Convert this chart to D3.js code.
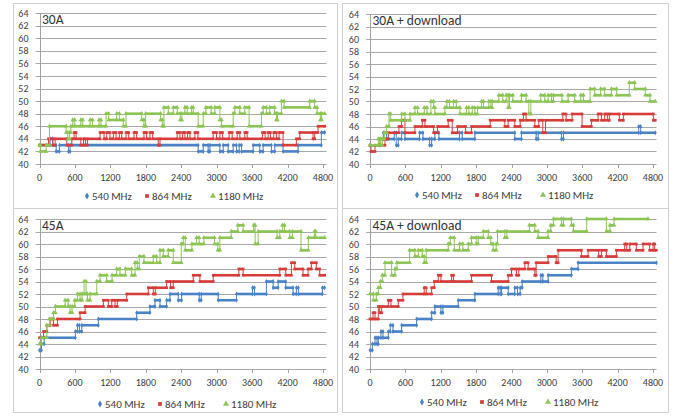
<!DOCTYPE html>
<html><head><meta charset="utf-8">
<script src="https://cdn.jsdelivr.net/npm/d3@7/dist/d3.min.js"></script>
<style>body{margin:0;background:#fff}svg{display:block}</style>
</head><body>
<svg id="c" width="675" height="416"></svg>
<script>
// ---- data ----
const xTicks = [0, 600, 1200, 1800, 2400, 3000, 3600, 4200, 4800];
const yTicks = [40, 42, 44, 46, 48, 50, 52, 54, 56, 58, 60, 62, 64];
const seriesNames = ["540 MHz", "864 MHz", "1180 MHz"];
const panelTitles = ["30A", "30A + download", "45A", "45A + download"];

// [time, temperature] change points (last pair = end of record)
const a30_540 = [[0,43],[180,44],[225,43],[282,42],[338,43],[490,42],[518,43],[2687,42],[2772,43],[2856,42],[2885,43],[3054,42],[3110,43],[3194,42],[3279,43],[3335,42],[3380,43],[3420,42],[3617,43],[3730,42],[3786,43],[3927,42],[3983,43],[4124,42],[4378,43],[4772,45],[4828,45]];
const a30_864 = [[0,43],[152,44],[225,43],[265,44],[462,43],[547,44],[586,45],[620,44],[699,43],[744,44],[778,43],[811,44],[1025,45],[1093,44],[1138,45],[1194,44],[1251,45],[1296,44],[1352,45],[1392,44],[1465,45],[1510,44],[1600,45],[1645,44],[1769,45],[1814,44],[1870,45],[1916,44],[2011,43],[2040,44],[2332,45],[2377,44],[2423,45],[2462,44],[2507,45],[2547,44],[2631,45],[2682,44],[2941,45],[2997,44],[3054,45],[3099,44],[3211,45],[3262,44],[3347,45],[3392,44],[3476,45],[3516,44],[3775,45],[3820,44],[3871,45],[3910,44],[3966,45],[4011,44],[4056,45],[4124,43],[4349,44],[4406,45],[4631,44],[4659,45],[4716,46],[4828,46]];
const a30_1180 = [[0,43],[17,42],[113,43],[169,46],[451,45],[479,44],[507,45],[530,46],[563,47],[597,46],[699,47],[732,46],[856,47],[896,46],[1008,47],[1042,46],[1127,48],[1172,47],[1307,48],[1352,47],[1420,46],[1465,48],[1730,47],[1769,46],[1797,48],[2051,47],[2079,46],[2107,49],[2180,48],[2265,49],[2332,48],[2383,47],[2411,48],[2462,49],[2501,48],[2575,49],[2603,48],[2687,46],[2772,48],[2817,49],[2907,48],[2969,49],[3054,47],[3082,46],[3279,48],[3307,49],[3392,48],[3476,49],[3549,46],[3758,48],[3786,49],[3843,48],[3899,49],[3983,48],[4011,47],[4028,48],[4096,50],[4141,49],[4575,50],[4659,49],[4699,48],[4755,47],[4777,48],[4828,48]];

const d30_540 = [[0,43],[169,44],[226,45],[282,44],[412,45],[446,43],[480,44],[536,45],[593,44],[841,45],[898,44],[1011,43],[1045,44],[1101,45],[1169,44],[1519,45],[1564,44],[1779,45],[2456,44],[2569,45],[2818,44],[2852,45],[3247,44],[3281,45],[4557,46],[4591,45],[4839,45]];
const d30_864 = [[0,43],[17,42],[85,43],[254,44],[311,45],[491,46],[536,47],[593,45],[762,46],[887,47],[932,46],[1079,45],[1146,46],[1327,47],[1395,45],[1485,46],[1621,45],[1722,46],[2039,47],[2287,46],[2343,47],[2456,46],[2547,47],[2603,48],[2648,47],[2795,46],[2863,47],[2931,45],[2976,47],[3270,48],[3326,47],[3428,48],[3597,46],[3755,47],[3868,48],[3925,47],[3981,48],[4026,47],[4060,48],[4230,47],[4297,48],[4806,47],[4839,47]];
const d30_1180 = [[0,43],[141,44],[181,43],[209,44],[243,45],[282,46],[322,48],[350,47],[536,48],[593,47],[678,48],[762,49],[808,48],[920,49],[966,48],[1033,50],[1079,49],[1101,48],[1271,49],[1304,50],[1350,49],[1417,50],[1463,49],[1525,48],[1638,49],[1677,48],[1734,49],[1779,48],[1824,49],[1892,50],[1926,49],[2016,50],[2050,49],[2072,50],[2185,51],[2253,50],[2310,51],[2343,49],[2366,51],[2423,50],[2569,51],[2648,50],[2694,48],[2728,50],[2897,51],[2965,50],[3021,51],[3078,50],[3111,51],[3258,50],[3360,51],[3473,50],[3575,51],[3620,50],[3733,52],[3812,51],[3913,52],[3981,51],[4094,52],[4184,51],[4399,53],[4489,52],[4670,51],[4749,50],[4839,50]];

const a45_540 = [[0,43],[34,44],[79,45],[608,46],[642,47],[676,46],[716,47],[997,48],[1645,49],[1870,50],[1955,51],[2040,50],[2152,51],[2209,52],[2349,51],[2406,52],[2704,51],[2738,52],[3025,51],[3335,52],[3606,53],[3640,52],[3842,54],[3955,53],[4040,54],[4169,53],[4293,52],[4349,53],[4383,52],[4789,53],[4828,53]];
const a45_864 = [[0,45],[68,46],[124,47],[180,48],[237,47],[304,48],[687,49],[772,50],[1082,51],[1166,50],[1223,51],[1279,50],[1318,51],[1476,52],[1842,53],[1927,52],[1961,53],[2152,54],[2220,53],[2265,54],[2603,55],[2716,54],[2941,55],[3375,56],[3448,55],[4068,56],[4169,55],[4265,57],[4321,56],[4462,55],[4547,56],[4603,57],[4687,56],[4744,55],[4828,55]];
const a45_1180 = [[0,44],[34,45],[124,47],[169,48],[237,49],[270,50],[434,51],[485,50],[518,49],[552,50],[597,51],[642,52],[687,51],[721,52],[755,54],[789,52],[811,51],[856,52],[969,54],[1025,55],[1138,54],[1228,55],[1307,56],[1363,55],[1454,56],[1561,55],[1617,57],[1656,56],[1690,58],[1769,57],[1927,58],[1983,57],[2040,59],[2096,58],[2180,59],[2265,57],[2400,60],[2434,61],[2468,59],[2580,60],[2659,61],[2704,60],[2783,61],[2963,60],[3020,59],[3054,61],[3245,62],[3358,63],[3448,62],[3628,63],[3651,60],[3702,62],[4023,61],[4068,62],[4113,63],[4147,62],[4237,61],[4282,62],[4428,59],[4552,61],[4654,62],[4676,61],[4828,61]];

const d45_540 = [[0,43],[40,44],[85,45],[119,44],[141,45],[186,46],[220,45],[311,46],[344,47],[390,46],[536,47],[791,48],[1045,49],[1101,50],[1203,49],[1237,50],[1496,51],[1779,52],[2174,53],[2208,52],[2231,53],[2344,52],[2456,53],[2502,52],[2547,53],[2581,54],[2897,55],[2931,54],[3021,55],[3416,56],[3529,57],[4857,57]];
const d45_864 = [[0,48],[51,49],[85,48],[141,50],[164,49],[198,50],[311,51],[356,50],[480,51],[559,52],[920,53],[954,52],[1045,53],[1090,54],[1158,55],[1203,54],[1384,55],[1417,54],[1722,55],[2061,54],[2344,55],[2400,56],[2485,55],[2524,56],[2626,57],[2682,56],[2795,55],[2818,57],[3021,58],[3157,57],[3191,59],[3586,58],[3699,59],[3879,58],[3925,59],[4009,58],[4179,59],[4320,60],[4354,59],[4405,60],[4518,59],[4631,60],[4743,59],[4800,60],[4828,59],[4857,59]];
const d45_1180 = [[0,52],[56,51],[107,52],[141,53],[175,54],[209,55],[254,57],[367,55],[424,56],[457,57],[672,59],[762,58],[819,59],[887,58],[920,57],[954,59],[1327,60],[1361,61],[1429,59],[1519,60],[1576,59],[1666,60],[1722,61],[1801,60],[1835,61],[1920,62],[2005,61],[2050,60],[2089,59],[2140,60],[2163,62],[2287,61],[2321,62],[2705,63],[2795,62],[2852,61],[3021,62],[3066,63],[3111,64],[3247,63],[3281,64],[3416,63],[3450,62],[3676,64],[4009,62],[4071,63],[4139,64],[4715,64]];

// ---- layout / style ----
const colors = ["#4a82c6", "#d63c3a", "#8cc456"];
const symbols = [d3.symbolDiamond, d3.symbolSquare, d3.symbolTriangle];
const FONT = "Carlito, Lato, 'Liberation Sans', sans-serif";
const panels = [
  {title: panelTitles[0], data: [a30_540, a30_864, a30_1180], box: [13.5, 3.5, 337.5, 208.5], x0: 39.5, x48: 323, yT: 13, yB: 164, legX: 87, legY: 196},
  {title: panelTitles[1], data: [d30_540, d30_864, d30_1180], box: [342.5, 3.5, 668.5, 208.5], x0: 370, x48: 653, yT: 14, yB: 164, legX: 417, legY: 195},
  {title: panelTitles[2], data: [a45_540, a45_864, a45_1180], box: [13.5, 208.5, 337.5, 412.5], x0: 39.5, x48: 323, yT: 219, yB: 369, legX: 100, legY: 404},
  {title: panelTitles[3], data: [d45_540, d45_864, d45_1180], box: [342.5, 208.5, 668.5, 412.5], x0: 370, x48: 653, yT: 219, yB: 369, legX: 422, legY: 402}
];

const svg = d3.select("#c");

panels.forEach(p => {
  const g = svg.append("g");
  g.append("rect").attr("x", p.box[0]).attr("y", p.box[1])
    .attr("width", p.box[2] - p.box[0]).attr("height", p.box[3] - p.box[1])
    .attr("fill", "#fff").attr("stroke", "#d0d0d0").attr("stroke-width", 1);

  const x = d3.scaleLinear().domain([0, 4800]).range([p.x0, p.x48]);
  const y = d3.scaleLinear().domain([40, 64]).range([p.yB, p.yT]);
  const xEnd = x(4860);

  yTicks.forEach(v => {
    g.append("line").attr("x1", p.x0 - 4).attr("x2", xEnd)
      .attr("y1", Math.round(y(v)) + 0.5).attr("y2", Math.round(y(v)) + 0.5)
      .attr("stroke", "#a8a8a8").attr("stroke-width", 1);
    g.append("text").attr("x", p.x0 - 11).attr("y", y(v)).attr("dy", "0.36em")
      .attr("text-anchor", "end").attr("font-family", FONT).attr("font-size", 10)
      .attr("fill", "#404040").text(v);
  });
  g.append("line").attr("x1", Math.round(p.x0) + 0.5).attr("x2", Math.round(p.x0) + 0.5)
    .attr("y1", y(64)).attr("y2", y(40)).attr("stroke", "#a0a0a0");
  xTicks.forEach(t => {
    g.append("line").attr("x1", Math.round(x(t)) + 0.5).attr("x2", Math.round(x(t)) + 0.5)
      .attr("y1", y(40)).attr("y2", y(40) + 4).attr("stroke", "#a0a0a0");
    g.append("text").attr("x", x(t)).attr("y", y(40) + 17)
      .attr("text-anchor", "middle").attr("font-family", FONT).attr("font-size", 10)
      .attr("fill", "#404040").text(t);
  });

  p.data.forEach((d, si) => {
    const sg = g.append("g");
    const c = colors[si];
    for (let i = 1; i < d.length; i++) {
      if (d[i][1] !== d[i - 1][1]) {
        sg.append("line").attr("x1", x(d[i][0])).attr("x2", x(d[i][0]))
          .attr("y1", y(d[i - 1][1])).attr("y2", y(d[i][1]))
          .attr("stroke", c).attr("stroke-width", 1);
      }
    }
    for (let i = 0; i < d.length - 1; i++) {
      sg.append("line").attr("x1", x(d[i][0])).attr("x2", x(d[i + 1][0]))
        .attr("y1", y(d[i][1])).attr("y2", y(d[i][1]))
        .attr("stroke", c).attr("stroke-width", 2.6);
    }
    const sym = d3.symbol().type(symbols[si]).size(si === 2 ? 9 : 7);
    for (let i = 0; i < d.length - 1; i++) {
      [d[i][0], d[i + 1][0]].forEach(t => {
        sg.append("path").attr("d", sym())
          .attr("transform", `translate(${x(t)},${y(d[i][1])})`).attr("fill", c);
      });
    }
  });

  g.append("text").attr("x", p.x0 + 2.5).attr("y", p.yT + 11)
    .attr("font-family", FONT).attr("font-size", 13.5).attr("fill", "#333").text(p.title);

  const offs = [0, 60, 126];
  seriesNames.forEach((n, si) => {
    const lx = p.legX + offs[si];
    g.append("path").attr("d", d3.symbol().type(symbols[si]).size(si === 2 ? 16 : 14)())
      .attr("transform", `translate(${lx},${p.legY})`).attr("fill", colors[si]);
    g.append("text").attr("x", lx + 5).attr("y", p.legY).attr("dy", "0.36em")
      .attr("font-family", FONT).attr("font-size", 11).attr("fill", "#404040").text(n);
  });
});
</script>
</body></html>
